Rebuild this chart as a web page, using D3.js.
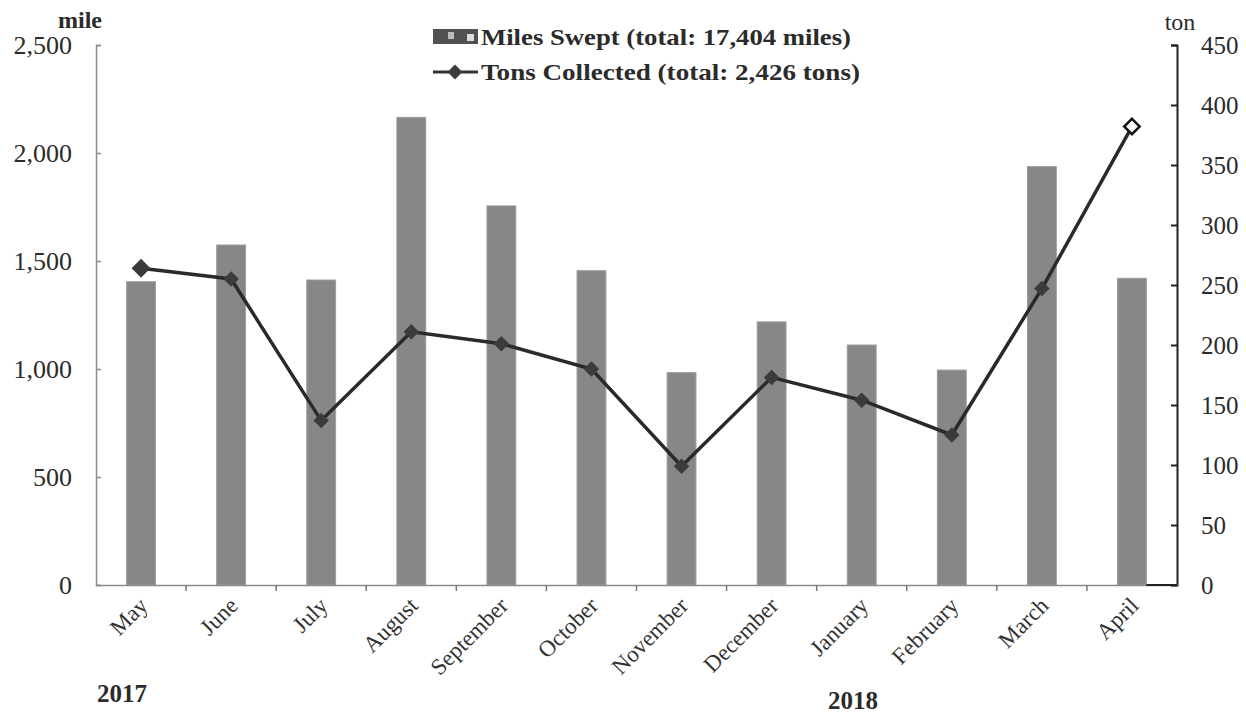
<!DOCTYPE html>
<html><head><meta charset="utf-8">
<script src="https://cdn.jsdelivr.net/npm/d3@7"></script>
<style>body{margin:0;background:#fff}svg{display:block}text{font-family:"Liberation Serif","Times New Roman",serif;fill:#2b2b2b}</style>
</head><body><svg id="c" width="1246" height="715"></svg>
<script>
const months = ["May","June","July","August","September","October","November","December","January","February","March","April"];
const milesSwept = [1404,1574,1412,2165,1755,1455,983,1218,1111,995,1937,1420];
const tonsCollected = [264,255,137,211,201,180,99,173,154,125,247,382];
const leftTicks = [0,500,1000,1500,2000,2500];
const rightTicks = [0,50,100,150,200,250,300,350,400,450];
const legendLabels = ["Miles Swept (total: 17,404 miles)","Tons Collected (total: 2,426 tons)"];
const yearLabels = ["2017","2018"];

const svg = d3.select("#c");
const L=96, R=1177, T=45, B=585;
const x = d3.scaleBand().domain(months).range([L,R]).paddingInner(0.68).paddingOuter(0.34);
const xb = d3.scaleBand().domain(months).range([L,R]);
const yL = d3.scaleLinear().domain([0,2500]).range([B,T]);
const yR = d3.scaleLinear().domain([0,450]).range([B,T]);

// bars
svg.append("g").selectAll("rect").data(milesSwept).join("rect")
  .attr("x",(d,i)=>x(months[i])).attr("width",x.bandwidth())
  .attr("y",d=>yL(d)).attr("height",d=>B-yL(d))
  .attr("fill","#868886").attr("stroke","#9a9c9a").attr("stroke-width",1);

// left axis
const la = svg.append("g").attr("transform",`translate(${L},0)`)
  .call(d3.axisRight(yL).tickValues(leftTicks).tickSize(5).tickFormat(""));
la.select(".domain").attr("stroke","#8a8a8a").attr("stroke-width",1.5);
la.selectAll(".tick line").attr("stroke","#8a8a8a").attr("stroke-width",1.5);
svg.append("g").selectAll("text").data(leftTicks).join("text")
  .attr("x",72).attr("y",d=>yL(d)+9).attr("text-anchor","end")
  .style("font-size","26px").text(d=>d3.format(",")(d));

// right axis
const ra = svg.append("g").attr("transform",`translate(${R},0)`)
  .call(d3.axisLeft(yR).tickValues(rightTicks).tickSize(6).tickFormat(""));
ra.select(".domain").attr("stroke","#222").attr("stroke-width",2);
ra.selectAll(".tick line").attr("stroke","#222").attr("stroke-width",2);
svg.append("g").selectAll("text").data(rightTicks).join("text")
  .attr("x",1201).attr("y",d=>yR(d)+9).attr("text-anchor","start")
  .style("font-size","25px").text(d=>d);

// bottom axis
const ba = svg.append("g").attr("transform",`translate(0,${B})`)
  .call(d3.axisBottom(xb).tickValues([]).tickSizeOuter(0));
ba.select(".domain").attr("stroke","#8a8a8a").attr("stroke-width",1.5);
svg.append("g").selectAll("line").data(months.slice(1)).join("line")
  .attr("x1",d=>xb(d)).attr("x2",d=>xb(d)).attr("y1",B).attr("y2",B+6)
  .attr("stroke","#777").attr("stroke-width",1.5);
svg.append("line").attr("x1",x("April")+x.bandwidth()).attr("x2",R).attr("y1",B).attr("y2",B)
  .attr("stroke","#222").attr("stroke-width",2);

// month labels
svg.append("g").selectAll("text").data(months).join("text")
  .attr("transform",d=>`translate(${x(d)+x.bandwidth()/2+8},${B+22}) rotate(-45)`)
  .attr("text-anchor","end").style("font-size","23px").style("fill","#333").text(d=>d);

// line
const cx = i=>x(months[i])+x.bandwidth()/2;
svg.append("path").datum(tonsCollected)
  .attr("d",d3.line().x((d,i)=>cx(i)).y(d=>yR(d)))
  .attr("fill","none").attr("stroke","#2a2a2a").attr("stroke-width",3.5);
const diamond = d3.symbol().type(d3.symbolSquare);
svg.append("g").selectAll("path").data(tonsCollected).join("path")
  .attr("transform",(d,i)=>`translate(${cx(i)},${yR(d)}) rotate(45)`)
  .attr("d",(d,i)=>diamond.size(i===0?180:120)())
  .attr("fill",(d,i)=>i===11?"#f4f4f4":"#3a3c3a")
  .attr("stroke",(d,i)=>i===11?"#111":"none").attr("stroke-width",2.5);

// unit labels
svg.append("text").attr("x",80).attr("y",28).attr("text-anchor","middle")
  .style("font-size","24px").style("font-weight","bold").text("mile");
svg.append("text").attr("x",1180).attr("y",30).attr("text-anchor","middle")
  .style("font-size","24px").text("ton");

// legend
const lg = svg.append("g");
lg.append("rect").attr("x",433).attr("y",29).attr("width",45).attr("height",15).attr("fill","#505250");
lg.append("rect").attr("x",448).attr("y",32).attr("width",6).attr("height",7).attr("fill","#bbb");
lg.append("rect").attr("x",467).attr("y",34).attr("width",7).attr("height",7).attr("fill","#ddd");
lg.append("text").attr("x",481).attr("y",45).style("font-size","23px").style("font-weight","bold")
  .attr("textLength",370).attr("lengthAdjust","spacingAndGlyphs").text(legendLabels[0]);
lg.append("line").attr("x1",433).attr("x2",478).attr("y1",72).attr("y2",72).attr("stroke","#333").attr("stroke-width",3);
lg.append("path").attr("transform","translate(455,72) rotate(45)").attr("d",diamond.size(110)()).attr("fill","#3a3c3a");
lg.append("text").attr("x",481).attr("y",80).style("font-size","23px").style("font-weight","bold")
  .attr("textLength",379).attr("lengthAdjust","spacingAndGlyphs").text(legendLabels[1]);

// year labels
svg.append("text").attr("x",97).attr("y",702).style("font-size","25px").style("font-weight","bold").text(yearLabels[0]);
svg.append("text").attr("x",828).attr("y",709).style("font-size","25px").style("font-weight","bold").text(yearLabels[1]);
</script></body></html>
